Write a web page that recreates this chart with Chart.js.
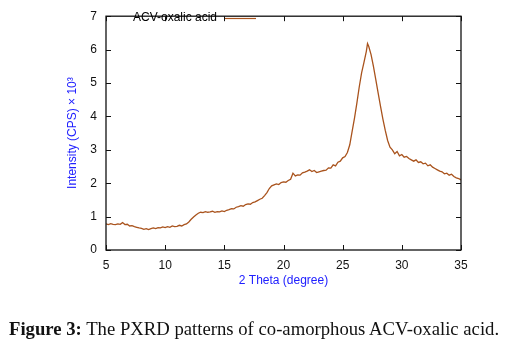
<!DOCTYPE html>
<html>
<head>
<meta charset="utf-8">
<script src="https://cdn.jsdelivr.net/npm/chart.js@4.4.0/dist/chart.umd.min.js"></script>
<style>
  html, body { margin: 0; padding: 0; background: #fff; }
  #wrap { position: relative; width: 511px; height: 348px; }
  #caption { position: absolute; left: 9px; top: 318px; font-family: "Liberation Serif", "DejaVu Serif", serif; font-size: 18.7px; color: #111; white-space: nowrap; }
</style>
</head>
<body>
<div id="wrap">
  <canvas id="c" width="511" height="348"></canvas>
  <div id="caption"><b>Figure 3:</b> The PXRD patterns of co-amorphous ACV-oxalic acid.</div>
</div>
<script>
const seriesLabel = "ACV-oxalic acid";
const xTitle = "2 Theta (degree)";
const yTitle = "Intensity (CPS) \u00d7 10\u00b3";
const xTicks = [5, 10, 15, 20, 25, 30, 35];
const yTicks = [0, 1, 2, 3, 4, 5, 6, 7];
const twoTheta = [
  5.0,5.2,5.4,5.6,5.8,6.0,6.2,6.4,6.6,6.8,7.0,7.2,7.4,7.6,7.8,8.0,8.2,8.4,8.6,8.8,
  9.0,9.2,9.4,9.6,9.8,10.0,10.2,10.4,10.6,10.8,11.0,11.2,11.4,11.6,11.8,12.0,12.2,12.4,12.6,12.8,
  13.0,13.2,13.4,13.6,13.8,14.0,14.2,14.4,14.6,14.8,15.0,15.2,15.4,15.6,15.8,16.0,16.2,16.4,16.6,16.8,
  17.0,17.2,17.4,17.6,17.8,18.0,18.2,18.4,18.6,18.8,19.0,19.2,19.4,19.6,19.8,20.0,20.2,20.4,20.6,20.8,
  21.0,21.2,21.4,21.6,21.8,22.0,22.2,22.4,22.6,22.8,23.0,23.2,23.4,23.6,23.8,24.0,24.2,24.4,24.6,24.8,
  25.0,25.2,25.4,25.6,25.8,26.0,26.2,26.4,26.6,26.8,27.0,27.1,27.2,27.4,27.6,27.8,28.0,28.2,28.4,28.6,
  28.8,29.0,29.2,29.4,29.6,29.8,30.0,30.2,30.4,30.6,30.8,31.0,31.2,31.4,31.6,31.8,32.0,32.2,32.4,32.6,
  32.8,33.0,33.2,33.4,33.6,33.8,34.0,34.2,34.4,34.6,34.8,35.0
];
const intensity = [
  0.78,0.76,0.79,0.77,0.76,0.78,0.77,0.82,0.76,0.77,0.72,0.73,0.70,0.68,0.66,0.65,0.62,0.64,0.61,0.64,
  0.66,0.64,0.67,0.66,0.69,0.67,0.70,0.68,0.72,0.70,0.71,0.74,0.72,0.76,0.78,0.84,0.92,0.99,1.05,1.10,
  1.13,1.12,1.15,1.13,1.14,1.16,1.13,1.15,1.14,1.17,1.15,1.19,1.21,1.24,1.23,1.28,1.30,1.33,1.31,1.36,
  1.38,1.37,1.42,1.44,1.48,1.52,1.55,1.63,1.72,1.84,1.92,1.95,1.98,1.96,2.02,2.04,2.03,2.08,2.12,2.30,
  2.22,2.25,2.24,2.31,2.33,2.36,2.40,2.35,2.38,2.32,2.34,2.36,2.38,2.39,2.46,2.45,2.55,2.52,2.63,2.66,
  2.76,2.80,2.92,3.15,3.55,3.95,4.40,4.88,5.30,5.62,5.95,6.18,6.10,5.85,5.50,5.10,4.70,4.30,3.92,3.58,
  3.28,3.08,3.00,2.88,2.95,2.82,2.86,2.78,2.80,2.74,2.70,2.66,2.70,2.62,2.64,2.58,2.60,2.52,2.55,2.48,
  2.44,2.40,2.36,2.34,2.28,2.30,2.24,2.27,2.20,2.16,2.14,2.10
];

const lineColor = '#a9531d';

const frame = {
  id: 'frame',
  afterDraw(chart) {
    const ctx = chart.ctx;
    const a = chart.chartArea;
    const xs = chart.scales.x, ys = chart.scales.y;
    ctx.save();
    ctx.strokeStyle = '#111';
    ctx.lineWidth = 1.3;
    ctx.strokeRect(a.left, a.top, a.right - a.left, a.bottom - a.top);
    ctx.lineWidth = 1;
    const t = 5;
    xs.ticks.forEach((tk, i) => {
      const px = Math.round(xs.getPixelForTick(i)) + 0.5;
      ctx.beginPath();
      ctx.moveTo(px, a.bottom); ctx.lineTo(px, a.bottom - t);
      ctx.moveTo(px, a.top); ctx.lineTo(px, a.top + t);
      ctx.stroke();
    });
    ys.ticks.forEach((tk, i) => {
      const py = Math.round(ys.getPixelForTick(i)) + 0.5;
      ctx.beginPath();
      ctx.moveTo(a.left, py); ctx.lineTo(a.left + t, py);
      ctx.moveTo(a.right, py); ctx.lineTo(a.right - t, py);
      ctx.stroke();
    });
    // key
    const ds = chart.data.datasets[0];
    ctx.font = '12px "Liberation Sans", Arial, sans-serif';
    ctx.fillStyle = '#000';
    ctx.textAlign = 'right';
    ctx.textBaseline = 'middle';
    ctx.fillText(ds.label, 217, 18);
    ctx.strokeStyle = ds.borderColor;
    ctx.lineWidth = 1.2;
    ctx.beginPath(); ctx.moveTo(225, 18.5); ctx.lineTo(256, 18.5); ctx.stroke();
    ctx.restore();
  }
};

new Chart(document.getElementById('c'), {
  type: 'line',
  data: {
    datasets: [{
      label: seriesLabel,
      data: twoTheta.map((x, i) => ({ x: x, y: intensity[i] })),
      borderColor: lineColor,
      borderWidth: 1.3,
      pointRadius: 0,
      tension: 0,
      fill: false
    }]
  },
  options: {
    responsive: false,
    animation: false,
    layout: { padding: { left: 65, right: 50, top: 9, bottom: 60 } },
    plugins: { legend: { display: false }, tooltip: { enabled: false } },
    scales: {
      x: {
        type: 'linear', min: 5, max: 35,
        afterBuildTicks(s) { s.ticks = xTicks.map(v => ({ value: v })); },
        afterFit(s) { s.height = 38; },
        grid: { display: false, drawTicks: false },
        border: { display: false },
        ticks: { color: '#111', font: { family: '"Liberation Sans", Arial, sans-serif', size: 12 }, padding: 8, maxRotation: 0 },
        title: { display: true, text: xTitle, color: '#2020ff', font: { family: '"Liberation Sans", Arial, sans-serif', size: 12 }, padding: { top: 3, bottom: 0 } }
      },
      y: {
        type: 'linear', min: 0, max: 7,
        afterBuildTicks(s) { s.ticks = yTicks.map(v => ({ value: v })); },
        afterFit(s) { s.width = 41; },
        grid: { display: false, drawTicks: false },
        border: { display: false },
        ticks: { color: '#111', font: { family: '"Liberation Sans", Arial, sans-serif', size: 12 }, padding: 9 },
        title: { display: true, text: yTitle, color: '#2020ff', font: { family: '"Liberation Sans", Arial, sans-serif', size: 12 }, padding: { top: 0, bottom: 0 } }
      }
    }
  },
  plugins: [frame]
});
</script>
</body>
</html>
